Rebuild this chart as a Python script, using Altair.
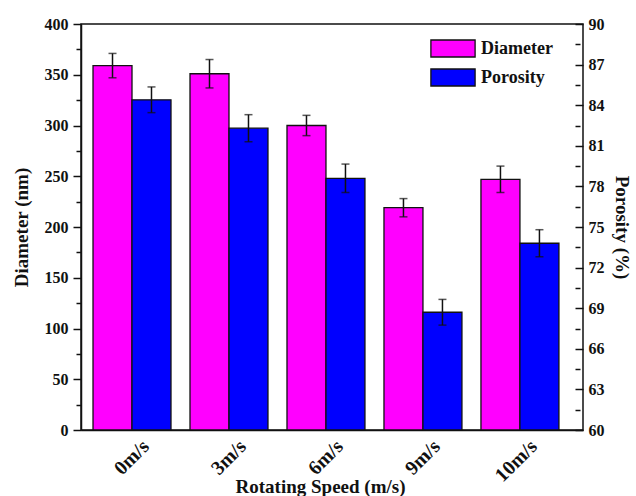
import altair as alt
import pandas as pd

# Grouped bars: fibre diameter (left axis) and porosity (right axis) by rotating speed
speeds = ["0m/s", "3m/s", "6m/s", "9m/s", "10m/s"]
diameter = [359, 351, 300, 219, 247]
diameter_err = [12, 14, 10, 9, 13]
porosity = [84.4, 82.3, 78.6, 68.7, 73.8]
porosity_err = [0.95, 1.0, 1.05, 0.95, 1.0]
series = ["Diameter", "Porosity"]
colors = ["#FF00FF", "#0000FF"]

rows = []
for s, d, de, p, pe in zip(speeds, diameter, diameter_err, porosity, porosity_err):
    rows.append({"speed": s, "series": "Diameter", "value": d, "err": de})
    rows.append({"speed": s, "series": "Porosity", "value": p, "err": pe})
df = pd.DataFrame(rows)

FONT = "Liberation Serif"
INK = "#111111"

x_enc = alt.X(
    "speed:N",
    sort=speeds,
    scale=alt.Scale(paddingInner=0.196, paddingOuter=0.186, align=0.333),
    axis=alt.Axis(
        title="Rotating Speed (m/s)",
        labelAngle=315,
        labelAlign="right",
        labelBaseline="middle",
        labelPadding=13,
        labelOffset=14,
        labelFontSize=20,
        ticks=False,
        titleX=239,
        titleY=62,
        titleBaseline="alphabetic",
    ),
)
x_off = alt.XOffset("series:N", scale=alt.Scale(domain=series, paddingInner=0, paddingOuter=0))
color = alt.Color(
    "series:N",
    scale=alt.Scale(domain=series, range=colors),
    legend=alt.Legend(
        title=None,
        orient="none",
        legendX=362.5,
        legendY=15,
        symbolType="M-2.6,-1H2.6V1H-2.6Z",
        symbolSize=289,
        symbolStrokeColor=INK,
        symbolStrokeWidth=1.3,
        labelFont=FONT,
        labelFontSize=18,
        labelFontWeight="bold",
        labelColor=INK,
        labelOffset=18.5,
        rowPadding=6,
        padding=0,
    ),
)

left_axis = alt.Axis(
    title="Diameter (nm)",
    values=list(range(0, 401, 25)),
    labelExpr="datum.value % 50 == 0 ? datum.label : ''",
    tickSize={"condition": {"test": "datum.value % 50 == 0", "value": 8}, "value": 5},
    labelPadding=5,
    titleAngle=270,
    titleX=-60,
    titleY=203,
    titleBaseline="middle",
)
right_axis = alt.Axis(
    title="Porosity (%)",
    orient="right",
    offset=-8,
    domain=False,
    values=[60 + 1.5 * i for i in range(21)],
    labelExpr="datum.value % 3 == 0 ? datum.label : ''",
    tickSize={"condition": {"test": "datum.value % 3 == 0", "value": 8}, "value": 5},
    labelPadding=5,
    titleAngle=90,
    titleX=46,
    titleY=203,
    titleBaseline="middle",
)


def series_layer(name, scale, axis, base_value):
    src = (
        alt.Chart(df)
        .transform_filter(alt.datum.series == name)
        .transform_calculate(lo="datum.value - datum.err", hi="datum.value + datum.err")
    )
    bars = src.mark_bar(stroke=INK, strokeWidth=1.3).encode(
        x=x_enc,
        xOffset=x_off,
        y=alt.Y("value:Q", scale=scale, axis=axis),
        y2=alt.datum(base_value),
        color=color,
    )
    whiskers = src.mark_rule(color=INK, strokeWidth=1.5).encode(
        x=x_enc,
        xOffset=x_off,
        y=alt.Y("lo:Q", scale=scale, axis=axis),
        y2="hi:Q",
    )
    caps = (
        src.transform_fold(["lo", "hi"], as_=["end", "pos"])
        .mark_tick(color=INK, size=8, thickness=1.5)
        .encode(
            x=x_enc,
            xOffset=x_off,
            y=alt.Y("pos:Q", scale=scale, axis=axis),
        )
    )
    return alt.layer(bars, whiskers, caps)


diam = series_layer("Diameter", alt.Scale(domain=[0, 400], nice=False), left_axis, 0)
poro = series_layer("Porosity", alt.Scale(domain=[60, 90], zero=False, nice=False), right_axis, 60)

chart = (
    alt.layer(diam, poro)
    .resolve_scale(y="independent")
    .properties(
        width=502,
        height=406,
        autosize="none",
        padding={"left": 81, "top": 24, "right": 53, "bottom": 66},
        background="white",
    )
    .configure_view(stroke=INK, strokeWidth=1.5)
    .configure_axis(
        grid=False,
        labelFont=FONT,
        labelFontSize=16,
        labelFontWeight="bold",
        labelColor=INK,
        titleFont=FONT,
        titleFontSize=19,
        titleFontWeight="bold",
        titleColor=INK,
        domainColor=INK,
        domainWidth=1.5,
        tickColor=INK,
        tickWidth=1.5,
    )
)

chart.save("out.html", embed_options={"renderer": "svg", "actions": False})
